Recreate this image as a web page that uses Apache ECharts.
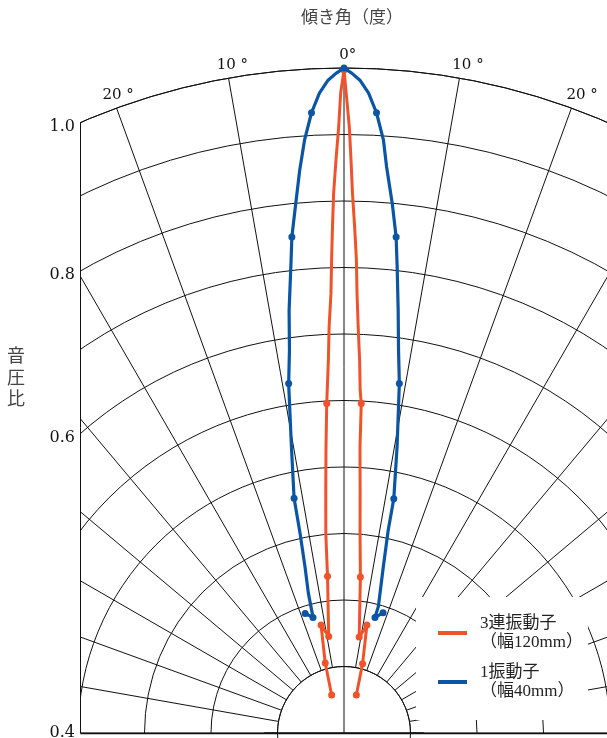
<!DOCTYPE html>
<html>
<head>
<meta charset="utf-8">
<script src="https://cdn.jsdelivr.net/npm/echarts@6/dist/echarts.min.js"></script>
<style>
  html, body { margin: 0; padding: 0; background: #fff; }
  #main { width: 607px; height: 738px; }
</style>
</head>
<body>
<div id="main"></div>
<script>
// Directivity patterns: tilt angle in degrees, radius in grid rings (0 = centre, 10 = outer ring)
const arrayAngles = [-18, -15, -12, -9, -6, -5.2, -4.3, -3.6, -3, -2.8, -2.4, -2.1, -1.7, -1.5, -1.3, -1.1, -0.8, -0.5, -0.3,
  0, 0.2, 0.5, 0.7, 0.9, 1.2, 1.5, 1.7, 2.0, 2.4, 2.7, 3, 3.2, 3.8, 4.6, 6, 9, 12, 15, 18];
const arrayRadii = [0.60, 1.09, 1.66, 1.47, 2.37, 3.02, 3.66, 4.31, 4.96, 5.16, 5.61, 6.11, 6.61, 7.12, 7.62, 8.12, 8.62, 9.12, 9.62,
  9.97, 9.62, 9.12, 8.62, 8.12, 7.62, 7.12, 6.61, 6.11, 5.61, 5.16, 4.96, 4.31, 3.66, 3.01, 2.36, 1.46, 1.66, 1.08, 0.60];

const singleAngles = [-18, -15, -14.3, -13.2, -12.4, -12, -10.4, -9, -8.1, -7.4, -6.5, -6, -5.2, -4.5, -3.8, -3, -2.2, -1.4, -0.7,
  0, 0.7, 1.4, 2.2, 3, 3.8, 4.3, 5.2, 6, 6.5, 7.3, 8.1, 9, 10.5, 12, 12.3, 13.3, 15.2, 15, 18];
const singleRadii = [1.89, 1.80, 2.17, 2.57, 3.08, 3.61, 4.38, 5.32, 5.82, 6.41, 7.06, 7.50, 8.00, 8.49, 8.94, 9.34, 9.63, 9.82, 9.92,
  10.0, 9.92, 9.82, 9.63, 9.34, 8.94, 8.54, 8.00, 7.50, 7.06, 6.41, 5.82, 5.32, 4.38, 3.60, 3.12, 2.57, 1.97, 1.80, 1.90];

// angles of the measured points, drawn with dots
const measuredAngles = [-18, -15, -12, -9, -6, -3, 0, 3, 6, 9, 12, 15, 18];

// angle axis labels
const angleTicks = [-20, -10, 0, 10, 20];
const angleTickLabels = ['20', '10', '0', '10', '20'];

// sound-pressure ratio labels along the left edge, at the given rings
const ratioRings = [10, 8, 6, 0];
const ratioLabels = ['1.0', '0.8', '0.6', '0.4'];

const seriesNames = ['3連振動子\n（幅120mm）', '1振動子\n（幅40mm）'];
const seriesColors = ['#f0522a', '#0a55a5'];

const CX = 344, CY = 733, R = 665;
const EDGE_X = 80.5;
const GRID = '#111';
const SERIF = "'DejaVu Serif', serif";
const JP = "'Liberation Serif', 'Noto Sans CJK JP', sans-serif";

function zip(angles, radii) {
  return angles.map((a, i) => [radii[i], a]);
}

const chart = echarts.init(document.getElementById('main'), null, { renderer: 'canvas' });

const dotSize = (val) => (measuredAngles.indexOf(val[1]) >= 0 ? 7 : 0);

const option = {
  animation: false,
  backgroundColor: '#fff',
  polar: [
    { center: [CX, CY], radius: [R / 10, R] },
    { center: [CX, CY], radius: [0, R] }
  ],
  angleAxis: [
    {
      polarIndex: 0, type: 'value', min: -90, max: 90, interval: 10,
      startAngle: 180, endAngle: 0, clockwise: true,
      axisLine: { show: true, lineStyle: { color: GRID, width: 1 } },
      axisTick: { show: false },
      axisLabel: { show: false },
      splitLine: { show: true, lineStyle: { color: GRID, width: 1 } }
    },
    {
      polarIndex: 1, type: 'value', min: -90, max: 90,
      startAngle: 180, endAngle: 0, clockwise: true, show: false
    }
  ],
  radiusAxis: [
    {
      polarIndex: 0, type: 'value', min: 1, max: 10, interval: 1,
      axisLine: { show: false }, axisTick: { show: false }, axisLabel: { show: false },
      splitLine: { show: true, lineStyle: { color: GRID, width: 1 } }
    },
    { polarIndex: 1, type: 'value', min: 0, max: 10, show: false }
  ],
  legend: {
    orient: 'vertical',
    left: 416, top: 597,
    backgroundColor: '#fff',
    padding: [17, 5, 19, 22],
    itemWidth: 29, itemHeight: 4, itemGap: 11,
    icon: 'rect',
    selectedMode: false,
    data: seriesNames,
    textStyle: { fontFamily: JP, fontSize: 17, lineHeight: 19, color: '#222', padding: [0, 0, 0, 8] }
  },
  series: [
    {
      name: seriesNames[0], type: 'line', coordinateSystem: 'polar', polarIndex: 1,
      data: zip(arrayAngles, arrayRadii),
      symbol: 'circle', symbolSize: dotSize, showAllSymbol: true,
      itemStyle: { color: seriesColors[0] },
      lineStyle: { color: seriesColors[0], width: 3 },
      z: 3, silent: true
    },
    {
      name: seriesNames[1], type: 'line', coordinateSystem: 'polar', polarIndex: 1,
      data: zip(singleAngles, singleRadii),
      symbol: 'circle', symbolSize: dotSize, showAllSymbol: true,
      itemStyle: { color: seriesColors[1] },
      lineStyle: { color: seriesColors[1], width: 3.2 },
      z: 4, silent: true
    },
    {
      // 0° axis through the inner ring
      name: 'axis0', type: 'line', coordinateSystem: 'polar', polarIndex: 1,
      data: [[0, 0], [1, 0]], symbol: 'none', silent: true,
      lineStyle: { color: GRID, width: 1 }, z: 1
    },
    {
      // base line across the inner ring
      name: 'base', type: 'line', coordinateSystem: 'polar', polarIndex: 1,
      data: [[1.2, -90], [1.2, 90]], symbol: 'none', silent: true,
      lineStyle: { color: GRID, width: 1.5 }, z: 1
    }
  ]
};

chart.setOption(option);

// Labels placed through the polar coordinate system
const toPx = (r, a) => chart.convertToPixel({ seriesIndex: 0 }, [r, a]);
const c = toPx(0, 0);
function edgeY(ring) {
  if (ring === 0) return c[1];
  const rPx = c[1] - toPx(ring, 0)[1];
  const ang = -Math.asin((c[0] - EDGE_X) / rPx) * 180 / Math.PI;
  return toPx(ring, ang)[1];
}

const graphics = [];
graphics.push({ type: 'rect', z: 50, silent: true, shape: { x: 0, y: 0, width: EDGE_X - 0.5, height: 738 }, style: { fill: '#fff' } });
graphics.push({ type: 'line', z: 51, silent: true, shape: { x1: EDGE_X, y1: edgeY(10), x2: EDGE_X, y2: c[1] }, style: { stroke: GRID, lineWidth: 1 } });
graphics.push({ type: 'line', z: 51, silent: true, shape: { x1: EDGE_X, y1: c[1] + 0.5, x2: 607, y2: c[1] + 0.5 }, style: { stroke: GRID, lineWidth: 1.5 } });

ratioRings.forEach((ring, i) => {
  graphics.push({
    type: 'text', z: 52, silent: true,
    style: { x: 75, y: Math.min(edgeY(ring) + 4, c[1]), text: ratioLabels[i], align: 'right', verticalAlign: 'middle',
      font: '16px ' + SERIF, fill: '#111' }
  });
});

angleTicks.forEach((a, i) => {
  const p = toPx(10.2, a);
  const label = angleTickLabels[i];
  const w = label.length * 9.5;
  graphics.push({
    type: 'text', z: 52, silent: true,
    style: { x: p[0] - w / 2, y: p[1], text: label + (a === 0 ? '°' : ' °'), align: 'left', verticalAlign: 'middle',
      font: '15px ' + SERIF, fill: '#111' }
  });
});

graphics.push({
  type: 'text', z: 52, silent: true,
  style: { x: 352, y: 17, text: '傾き角（度）', align: 'center', verticalAlign: 'middle',
    font: "17px 'Noto Sans CJK JP'", fill: '#444' }
});
graphics.push({
  type: 'text', z: 52, silent: true,
  style: { x: 16, y: 377, text: '音\n圧\n比', align: 'center', verticalAlign: 'middle',
    font: "18px 'Noto Sans CJK JP'", lineHeight: 21.5, fill: '#444' }
});

chart.setOption({ graphic: graphics });
</script>
</body>
</html>
